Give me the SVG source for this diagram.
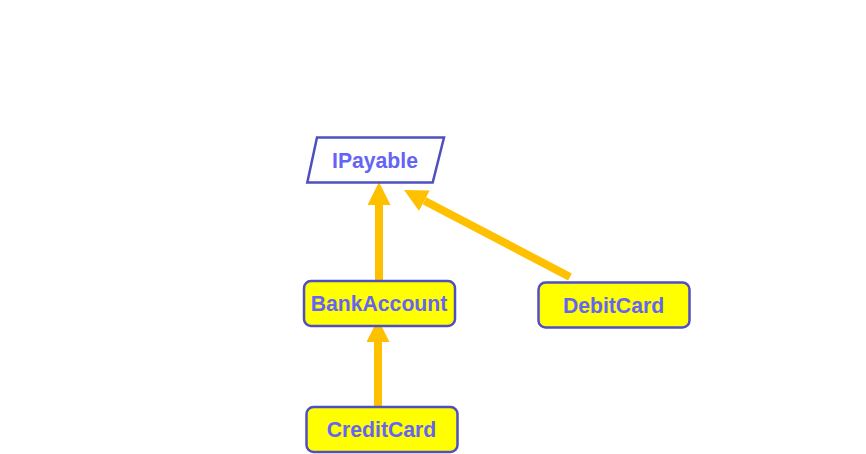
<svg xmlns="http://www.w3.org/2000/svg" width="866" height="454" viewBox="0 0 866 454">
<style>
.node{fill:#FFFF00;stroke:#4F4FC0;stroke-width:2.5}
.iface{fill:#FFFFFF;stroke:#4F4FC0;stroke-width:2.5}
.lbl{font-family:"Liberation Sans",Arial,sans-serif;font-weight:bold;font-size:21.2px;fill:#6464F5;text-anchor:middle;dominant-baseline:central}
.conn{stroke:#FFC000;stroke-width:8;fill:none;marker-end:url(#ah)}
</style>
<defs>
<marker id="ah" markerUnits="userSpaceOnUse" markerWidth="23" markerHeight="23" refX="0" refY="11.5" orient="auto">
<path d="M0,0 L23,11.5 L0,23 z" fill="#FFC000"/>
</marker>
</defs>
<rect width="866" height="454" fill="#FFFFFF"/>
<g id="connectors">
<line class="conn" x1="379" y1="281" x2="379" y2="205"/>
<line class="conn" x1="378" y1="407" x2="378" y2="342"/>
<line class="conn" x1="570" y1="277" x2="424.4" y2="200.7"/>
</g>
<g id="IPayable">
<polygon class="iface" points="317,137.5 444,137.5 432.7,182.5 307.3,182.5"/>
<text class="lbl" x="375" y="160">IPayable</text>
</g>
<g id="BankAccount">
<rect class="node" x="304" y="281" width="151" height="45" rx="7"/>
<text class="lbl" x="379" y="303.5">BankAccount</text>
</g>
<g id="DebitCard">
<rect class="node" x="538.5" y="282.5" width="151" height="45" rx="7"/>
<text class="lbl" x="613.5" y="305">DebitCard</text>
</g>
<g id="CreditCard">
<rect class="node" x="306.5" y="407" width="151" height="45" rx="7"/>
<text class="lbl" x="381.5" y="429.5">CreditCard</text>
</g>
</svg>
